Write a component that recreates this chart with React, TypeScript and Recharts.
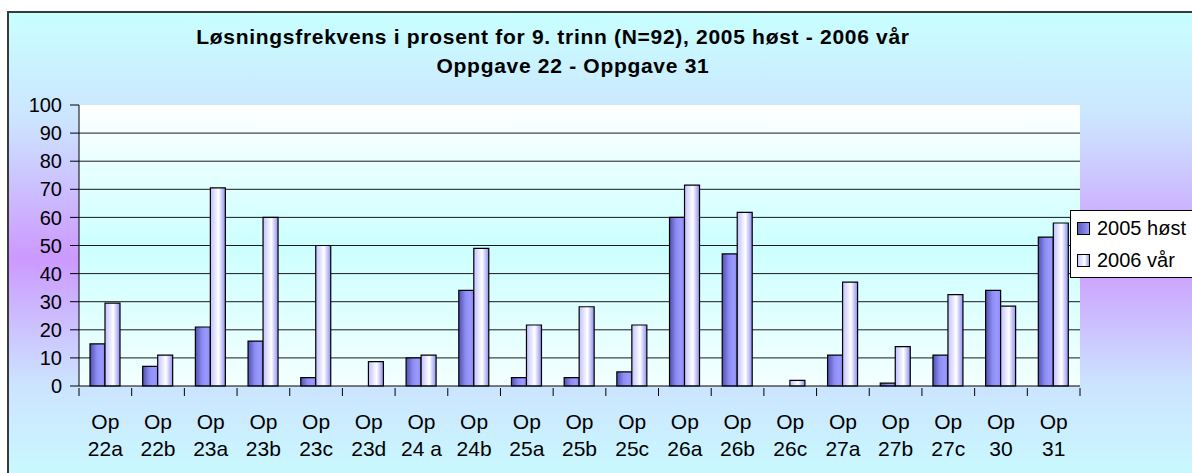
import React from 'react';
import { BarChart, Bar, XAxis, YAxis, CartesianGrid, Legend } from 'recharts';

const categories = [
  'Op 22a', 'Op 22b', 'Op 23a', 'Op 23b', 'Op 23c', 'Op 23d', 'Op 24 a', 'Op 24b', 'Op 25a', 'Op 25b',
  'Op 25c', 'Op 26a', 'Op 26b', 'Op 26c', 'Op 27a', 'Op 27b', 'Op 27c', 'Op 30', 'Op 31',
];
const host2005 = [15, 7, 21, 16, 3, 0, 10, 34, 3, 3, 5, 60, 47, 0, 11, 1, 11, 34, 53];
const var2006 = [29.5, 11, 70.5, 60, 50, 8.7, 11, 49, 21.7, 28.2, 21.7, 71.5, 61.8, 2, 37, 14, 32.5, 28.4, 58];
const yTicks = [0, 10, 20, 30, 40, 50, 60, 70, 80, 90, 100];
const gridValues = [10, 20, 30, 40, 50, 60, 70, 80, 90];

const seriesNames = ['2005 høst', '2006 vår'];
const titleLines = ['Løsningsfrekvens i prosent for 9. trinn (N=92), 2005 høst - 2006 vår', 'Oppgave 22 - Oppgave 31'];

const data = categories.map((name, i) => ({ name, host: host2005[i], var: var2006[i] }));

const W = 1192;
const H = 473;
const margin = { top: 105, right: 112, bottom: 0, left: 0 };
const yAxisWidth = 79;
const font = '"Liberation Sans", Arial, sans-serif';
const band = (W - margin.right - yAxisWidth) / categories.length;

const XTick = (props: any) => {
  const { x, y, payload, index } = props;
  const [first, ...rest] = String(payload.value).split(' ');
  return (
    <g>
      <line x1={x - band / 2} x2={x - band / 2} y1={y} y2={y + 8} stroke="#000" />
      {index === categories.length - 1 && (
        <line x1={x + band / 2} x2={x + band / 2} y1={y} y2={y + 8} stroke="#000" />
      )}
      <text x={x} y={y + 41} textAnchor="middle" fontSize={21} fontFamily={font} fill="#000">{first}</text>
      <text x={x} y={y + 68} textAnchor="middle" fontSize={21} fontFamily={font} fill="#000">{rest.join(' ')}</text>
    </g>
  );
};

const LegendBox = () => (
  <div style={{ background: '#fff', border: '1px solid #000', padding: '1px 0 1px 6px', fontFamily: font, fontSize: 20 }}>
    {seriesNames.map((n, i) => (
      <div key={n} style={{ display: 'flex', alignItems: 'center', height: 32, whiteSpace: 'nowrap' }}>
        <span style={{
          display: 'inline-block', width: 11, height: 11, border: '1.5px solid #000', marginRight: 7,
          background: i === 0 ? 'linear-gradient(to right,#5a5ab8,#9999ff)' : 'linear-gradient(to right,#c8c8ff,#ffffff 60%,#9a9aee)',
        }} />
        {n}
      </div>
    ))}
  </div>
);

export default function App() {
  return (
    <div style={{ position: 'absolute', left: 0, top: 0, width: W, height: H, overflow: 'hidden' }}>
      <div style={{
        position: 'absolute', left: 7, top: 11, width: 1210, height: 490, border: '2px solid #3a3a3a',
        background: 'linear-gradient(to bottom,#c8ffff 0%,#cce4ff 22%,#cc99ff 50%,#cce4ff 76%,#c8ffff 100%)',
      }} />
      {titleLines.map((t, i) => (
        <div key={t} style={{
          position: 'absolute', left: (i === 0 ? 553 : 573) - 500, width: 1000, top: i === 0 ? 24 : 53,
          textAlign: 'center', fontFamily: font, fontWeight: 'bold', fontSize: 21, letterSpacing: '0.7px',
          lineHeight: '26px', color: '#000',
        }}>{t}</div>
      ))}
      <div style={{ position: 'absolute', left: 0, top: 0 }}>
        <BarChart width={W} height={H} data={data} margin={margin} barGap={0} barSize={15}>
          <defs>
            <linearGradient id="plotBg" x1="0" y1="0" x2="0" y2="1">
              <stop offset="0%" stopColor="#ffffff" />
              <stop offset="50%" stopColor="#ccffff" />
              <stop offset="100%" stopColor="#f4ffff" />
            </linearGradient>
            <linearGradient id="s1" x1="0" y1="0" x2="1" y2="0">
              <stop offset="0%" stopColor="#5050b0" />
              <stop offset="45%" stopColor="#8c8cf4" />
              <stop offset="75%" stopColor="#9999ff" />
              <stop offset="100%" stopColor="#8a8aee" />
            </linearGradient>
            <linearGradient id="s2" x1="0" y1="0" x2="1" y2="0">
              <stop offset="0%" stopColor="#c0c0ff" />
              <stop offset="55%" stopColor="#ffffff" />
              <stop offset="100%" stopColor="#8e8ef0" />
            </linearGradient>
          </defs>
          <CartesianGrid vertical={false} horizontalValues={gridValues} stroke="#1a1a1a" fill="url(#plotBg)" fillOpacity={1} />
          <XAxis
            dataKey="name"
            interval={0}
            height={87}
            tickSize={0}
            tickLine={false}
            axisLine={{ stroke: '#000' }}
            tick={<XTick />}
          />
          <XAxis xAxisId="top" dataKey="name" orientation="top" height={0} tick={false} tickLine={false} axisLine={{ stroke: '#8a8a8a', strokeWidth: 1.5 }} />
          <YAxis
            domain={[0, 100]}
            ticks={yTicks}
            interval={0}
            width={yAxisWidth}
            tickSize={9}
            tickMargin={8}
            axisLine={{ stroke: '#000' }}
            tickLine={{ stroke: '#000' }}
            tick={{ fontSize: 20, fill: '#000', fontFamily: font }}
          />
          <YAxis yAxisId="right" orientation="right" domain={[0, 100]} width={0} tick={false} tickLine={false} axisLine={{ stroke: '#8a8a8a', strokeWidth: 1.5 }} />
          <Legend
            layout="vertical"
            align="center"
            verticalAlign="middle"
            content={<LegendBox />}
            wrapperStyle={{ left: 1070, top: 210, width: 140 }}
          />
          <Bar dataKey="host" name={seriesNames[0]} fill="url(#s1)" stroke="#000" strokeWidth={1.2} isAnimationActive={false} />
          <Bar dataKey="var" name={seriesNames[1]} fill="url(#s2)" stroke="#000" strokeWidth={1.2} isAnimationActive={false} />
        </BarChart>
      </div>
    </div>
  );
}
